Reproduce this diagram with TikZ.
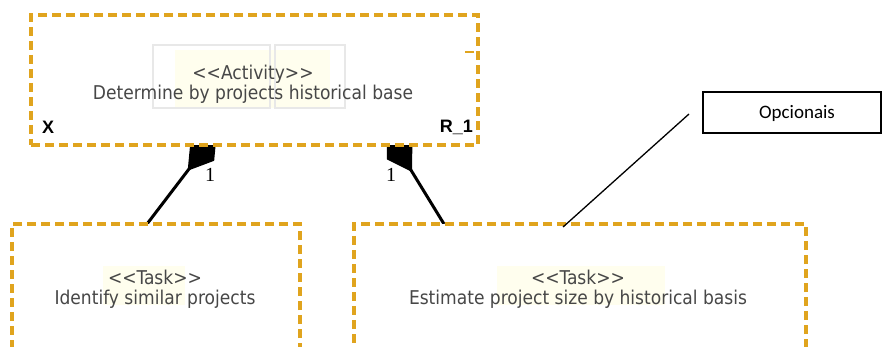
\documentclass[tikz,border=0pt]{standalone}
\usepackage{fontspec}
\setmainfont{DejaVu Sans Condensed}
\newfontfamily\notefont{Carlito}
\newfontfamily\numfont{Liberation Serif}
\newfontfamily\cornerfont{Liberation Sans}
\usetikzlibrary{arrows.meta,backgrounds}
\definecolor{dashgold}{HTML}{E0A41E}
\definecolor{labelgray}{HTML}{474747}
\newcommand{\guil}[1]{{<}{<}#1{>}{>}}
\tikzset{
  umlbox/.style={draw=dashgold, fill=white, line width=3.2pt, dash pattern=on 9pt off 5pt, inner sep=0pt},
  stereo/.style={text=labelgray, font=\fontsize{19}{20}\selectfont, align=center, inner sep=0pt},
  corner/.style={font=\cornerfont\bfseries\fontsize{18}{18}\selectfont, inner sep=0pt},
  compose/.style={line width=3pt, -{Diamond[length=48pt,width=30pt]}},
  mult/.style={font=\numfont\fontsize{20}{20}\selectfont, inner sep=0pt},
  notebox/.style={draw=black, line width=1.3pt, minimum width=178pt, minimum height=41pt, inner sep=0pt},
  noteline/.style={draw=black, line width=1.3pt},
  glow/.style={fill=yellow!30, opacity=0.22, draw=none}
}
\begin{document}
\begin{tikzpicture}[x=1pt,y=-1pt]
  \useasboundingbox (0,0) rectangle (882,347);
  \clip (0,0) rectangle (882,347);

  % activity box
  \node[umlbox, minimum width=447pt, minimum height=130pt] (act) at (254.5,80) {};
  % faint icon backdrop behind the stereotype label
  \fill[glow] (175,50) rectangle (330,108);
  \draw[gray!18, line width=1.2pt] (153,45) rectangle (270,108);
  \draw[gray!18, line width=1.2pt] (275,45) rectangle (345,108);
  \node[stereo] (actlbl) at (253,84) {\guil{Activity}\\Determine by projects historical base};
  \node[corner, anchor=west] (xlbl) at (42,127) {X};
  \node[corner, anchor=east] (rlbl) at (473,127) {R\_1};
  \draw[dashgold, line width=2.4pt] (465,52) -- (474,52);

  % task boxes (they run off the lower edge)
  \node[umlbox, minimum width=288pt, minimum height=176pt] (t1) at (156,312) {};
  \fill[glow] (103,266) rectangle (185,305);
  \node[stereo] (t1lbl) at (155,289) {\guil{Task}\\Identify similar projects};
  \node[umlbox, minimum width=452pt, minimum height=176pt] (t2) at (580,312) {};
  \fill[glow] (497,266) rectangle (665,305);
  \node[stereo] (t2lbl) at (578,289) {\guil{Task}\\Estimate project size by historical basis};

  % composition links, tucked under the activity box
  \coordinate (a1) at (147,224);
  \coordinate (d1) at (216.8,132.6);
  \coordinate (a2) at (444,224);
  \coordinate (d2) at (387,131);
  \begin{pgfonlayer}{background}
    \draw[compose] (a1) -- (d1);
    \draw[compose] (a2) -- (d2);
  \end{pgfonlayer}
  \node[mult] (m1) at (210,175) {1};
  \node[mult] (m2) at (391,175) {1};

  % note
  \node[notebox] (note) at (792,112.5) {};
  \node[font=\notefont\fontsize{19}{20}\selectfont, inner sep=0pt] (notelbl) at (797,113) {Opcionais};
  \coordinate (n1) at (689,114);
  \coordinate (n2) at (563,227);
  \draw[noteline] (n1) -- (n2);
\end{tikzpicture}
\end{document}
